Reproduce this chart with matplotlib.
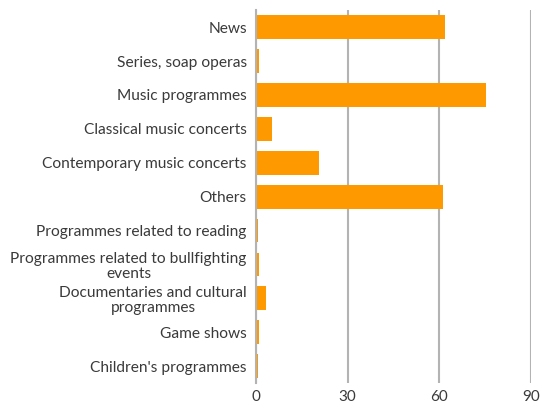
import numpy as np
import matplotlib.pyplot as plt

categories = [
    "News",
    "Series, soap operas",
    "Music programmes",
    "Classical music concerts",
    "Contemporary music concerts",
    "Others",
    "Programmes related to reading",
    "Programmes related to bullfighting\nevents",
    "Documentaries and cultural\nprogrammes",
    "Game shows",
    "Children's programmes",
]
values = [61.7, 1.2, 75.2, 5.3, 20.7, 61.3, 0.8, 0.9, 3.2, 1.2, 0.7]
xticks = [0, 30, 60, 90]

plt.rcParams['font.family'] = ['Lato', 'DejaVu Sans']

fig = plt.figure(figsize=(5.42, 4.08), dpi=100)
ax = fig.add_axes([0.472, 0.061, 0.508, 0.914])

y = np.arange(len(categories))
ax.barh(y, values, height=0.7, color='#ff9900', zorder=3)
ax.set_yticks(y)
ax.set_yticklabels(categories, ha='right', multialignment='center',
                   fontsize=11.2, color='#3a3a3a', linespacing=1.1)
ax.tick_params(axis='y', length=0, pad=6.5)
ax.set_ylim(len(categories) - 0.5, -0.5)

ax.set_xlim(0, 90)
ax.set_xticks(xticks)
ax.tick_params(axis='x', length=0, labelsize=11, labelcolor='#3a3a3a', pad=5)
ax.xaxis.grid(True, color='#b3b3b3', linewidth=1.5, zorder=0)

for s in ['top', 'right', 'bottom']:
    ax.spines[s].set_visible(False)
ax.spines['left'].set_color('#b3b3b3')
ax.spines['left'].set_linewidth(1.5)
ax.spines['left'].set_zorder(4)

fig.savefig('out.png', dpi=100)
